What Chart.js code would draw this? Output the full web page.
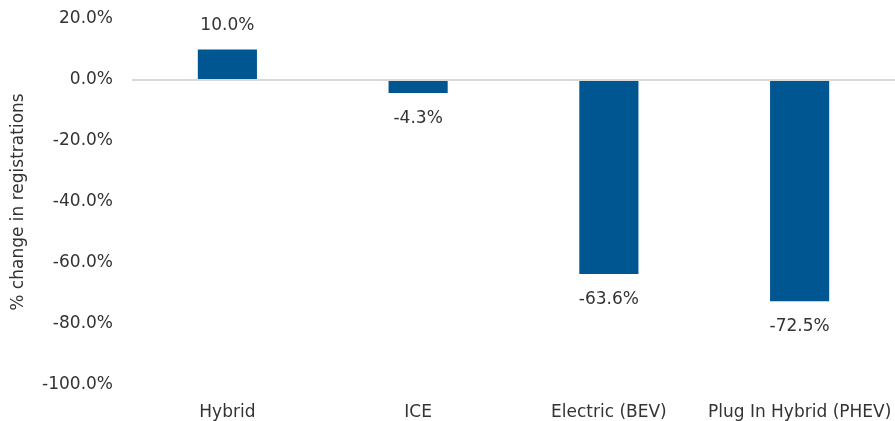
<!DOCTYPE html>
<html>
<head>
<meta charset="utf-8">
<script src="https://cdn.jsdelivr.net/npm/chart.js@4.4.0/dist/chart.umd.min.js"></script>
<style>
  html, body { margin: 0; padding: 0; background: #fff; }
  #wrap { width: 895px; height: 421px; }
</style>
</head>
<body>
<div id="wrap"><canvas id="chart"></canvas></div>
<script>
const categories = ['Hybrid', 'ICE', 'Electric (BEV)', 'Plug In Hybrid (PHEV)'];
const changes = [10.0, -4.3, -63.6, -72.5];
const yTicks = [20, 0, -20, -40, -60, -80, -100];

const FONT = "'DejaVu Sans', sans-serif";
const TEXT = '#333333';

// value labels above / below each bar
const barLabels = {
  id: 'barLabels',
  afterDatasetsDraw(chart) {
    const ctx = chart.ctx;
    const meta = chart.getDatasetMeta(0);
    ctx.save();
    ctx.font = '17px ' + FONT;
    ctx.fillStyle = TEXT;
    ctx.textAlign = 'center';
    meta.data.forEach((bar, i) => {
      const v = changes[i];
      if (v >= 0) {
        ctx.textBaseline = 'bottom';
        ctx.fillText(v.toFixed(1) + '%', bar.x, bar.y - 15);
      } else {
        ctx.textBaseline = 'top';
        ctx.fillText(v.toFixed(1) + '%', bar.x, bar.y + 17);
      }
    });
    ctx.restore();
  }
};

new Chart(document.getElementById('chart'), {
  type: 'bar',
  data: {
    labels: categories,
    datasets: [{
      data: changes,
      backgroundColor: '#005691',
      categoryPercentage: 1,
      barPercentage: 0.31
    }]
  },
  options: {
    responsive: true,
    maintainAspectRatio: false,
    animation: false,
    layout: { padding: 0 },
    plugins: { legend: { display: false }, tooltip: { enabled: false } },
    scales: {
      x: {
        afterFit(scale) {
          scale.height = 36;
          scale.paddingLeft = 0;
          scale.paddingRight = 0;
        },
        grid: { display: false, drawTicks: false },
        border: { display: false },
        ticks: { color: TEXT, font: { family: FONT, size: 17 }, padding: 17 }
      },
      y: {
        min: -100,
        max: 20,
        afterBuildTicks(scale) { scale.ticks = yTicks.map(v => ({ value: v })); },
        afterFit(scale) {
          scale.width = 132;
          scale.paddingTop = 19;
          scale.paddingBottom = 10;
        },
        grid: {
          drawTicks: false,
          color: ctx => ctx.tick && ctx.tick.value === 0 ? '#d9d9d9' : 'rgba(0,0,0,0)',
          lineWidth: 2
        },
        border: { display: false },
        title: {
          display: true,
          text: '% change in registrations',
          color: TEXT,
          font: { family: FONT, size: 17 },
          padding: { top: 8, bottom: 0 }
        },
        ticks: {
          color: TEXT,
          font: { family: FONT, size: 17 },
          padding: 19,
          callback: v => v.toFixed(1) + '%'
        }
      }
    }
  },
  plugins: [barLabels]
});
</script>
</body>
</html>
